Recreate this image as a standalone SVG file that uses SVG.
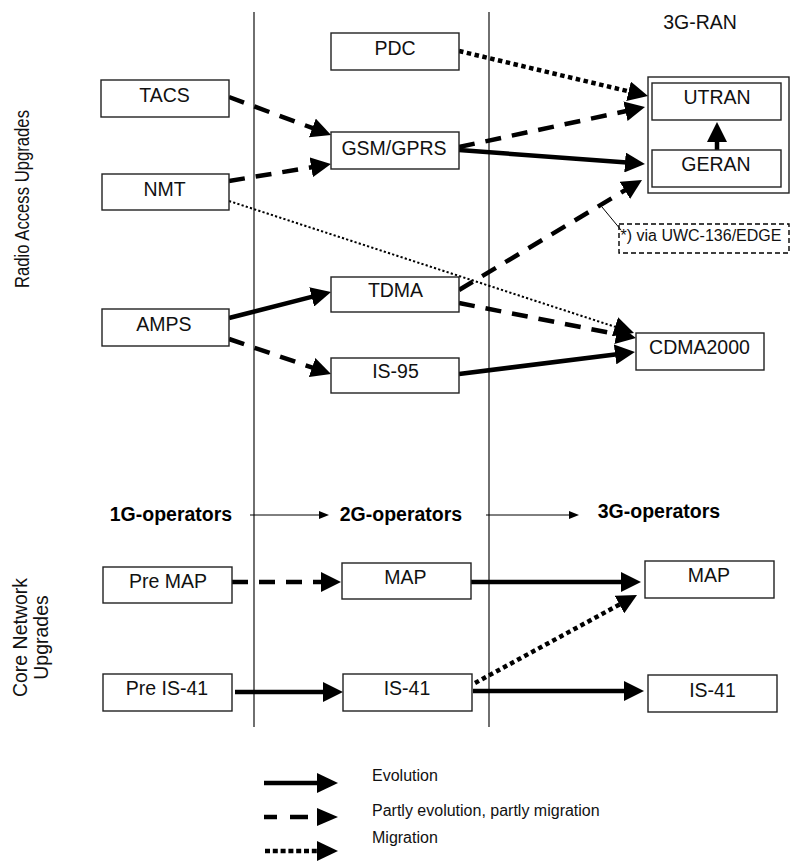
<svg xmlns="http://www.w3.org/2000/svg" width="791" height="861" viewBox="0 0 791 861">
<style>
.box{fill:#fff;stroke:#222;stroke-width:1.4}
.t{font-family:"Liberation Sans",Arial,sans-serif;font-size:19.5px;text-anchor:middle;fill:#111}
.b{font-family:"Liberation Sans",Arial,sans-serif;font-size:19.5px;font-weight:bold;text-anchor:middle;fill:#000}
.s{font-family:"Liberation Sans",Arial,sans-serif;font-size:16px;fill:#111}
.sep{stroke:#222;stroke-width:1.3}
.ev{stroke:#000;stroke-width:4.5;fill:none;marker-end:url(#ah)}
.pe{stroke:#000;stroke-width:4.5;fill:none;stroke-dasharray:16 11;marker-end:url(#ah)}
.mg{stroke:#000;stroke-width:4.5;fill:none;stroke-dasharray:4.5 3.5;marker-end:url(#ah)}
.mgt{stroke:#000;stroke-width:2;fill:none;stroke-dasharray:2.2 2.2;marker-end:url(#ah)}
.thin{stroke:#000;stroke-width:1;fill:none;marker-end:url(#sh)}
</style>
<defs>
<marker id="ah" viewBox="0 0 20 20" refX="2" refY="10" markerWidth="20" markerHeight="20" markerUnits="userSpaceOnUse" orient="auto"><path d="M0,0 L20,10 L0,20 z" fill="#000"/></marker>
<marker id="sh" viewBox="0 0 10 8" refX="1" refY="4" markerWidth="10" markerHeight="8" markerUnits="userSpaceOnUse" orient="auto"><path d="M0,0 L10,4 L0,8 z" fill="#000"/></marker>
</defs>
<rect width="791" height="861" fill="#fff"/>

<g id="separators">
<line class="sep" x1="254" y1="12" x2="254" y2="727"/>
<line class="sep" x1="489" y1="12" x2="489" y2="727"/>
</g>

<g id="side-labels">
<text class="t" transform="translate(28.5,199) rotate(-90)" textLength="178" lengthAdjust="spacingAndGlyphs">Radio Access Upgrades</text>
<text class="t" transform="translate(26.5,637.5) rotate(-90)">Core Network</text>
<text class="t" transform="translate(47.5,637.5) rotate(-90)">Upgrades</text>
</g>

<g id="ran3g">
<rect class="box" x="648" y="77" width="141" height="116"/>
<text class="t" x="700" y="29">3G-RAN</text>
</g>

<g id="connectors">
<line class="pe" x1="229" y1="97" x2="314.2" y2="128.7"/>
<line class="pe" x1="229" y1="181" x2="313.2" y2="167"/>
<line class="mg" x1="459" y1="51" x2="630.5" y2="91.8"/>
<line class="pe" x1="459" y1="147" x2="627.4" y2="110.8"/>
<line class="ev" x1="459" y1="150" x2="627" y2="162.6"/>
<line class="pe" x1="459" y1="290" x2="626.6" y2="189.3"/>
<line class="pe" x1="459" y1="303" x2="618.3" y2="334.5"/>
<line class="mgt" x1="229" y1="201" x2="616.9" y2="327.4"/>
<line class="ev" x1="459" y1="374" x2="617.1" y2="354.2"/>
<line class="ev" x1="229" y1="318" x2="313.6" y2="296.4"/>
<line class="pe" x1="229" y1="339" x2="314" y2="368.2"/>
<line class="ev" x1="717" y1="150" x2="717" y2="140"/>
<line class="pe" x1="232" y1="582" x2="323" y2="582"/>
<line class="ev" x1="471" y1="582" x2="623" y2="582"/>
<line class="mg" x1="475" y1="683" x2="621.2" y2="603.6"/>
<line class="ev" x1="473" y1="691" x2="626" y2="691"/>
<line class="ev" x1="235" y1="692" x2="325" y2="692"/>
<line class="thin" x1="250" y1="515" x2="320" y2="515"/>
<line class="thin" x1="486" y1="515" x2="570" y2="515"/>
<line stroke="#000" stroke-width="1" x1="602" y1="207" x2="621" y2="230"/>
</g>

<g id="pdc"><rect class="box" x="331" y="33" width="128" height="37"/><text class="t" x="395" y="55">PDC</text></g>
<g id="tacs"><rect class="box" x="101" y="80" width="128" height="37"/><text class="t" x="164.5" y="101.7">TACS</text></g>
<g id="gsm"><rect class="box" x="331" y="132" width="128" height="37"/><text class="t" x="394" y="155">GSM/GPRS</text></g>
<g id="nmt"><rect class="box" x="102" y="174" width="127" height="36"/><text class="t" x="164.5" y="195.7">NMT</text></g>
<g id="utran"><rect class="box" x="652" y="83" width="129" height="37"/><text class="t" x="717" y="104">UTRAN</text></g>
<g id="geran"><rect class="box" x="652" y="150" width="129" height="37"/><text class="t" x="716" y="171">GERAN</text></g>
<g id="tdma"><rect class="box" x="331" y="277" width="128" height="35"/><text class="t" x="395.5" y="296.7">TDMA</text></g>
<g id="amps"><rect class="box" x="102" y="309" width="127" height="37"/><text class="t" x="164" y="330.7">AMPS</text></g>
<g id="is95"><rect class="box" x="331" y="358" width="128" height="35"/><text class="t" x="395.5" y="377.7">IS-95</text></g>
<g id="cdma2000"><rect class="box" x="636" y="333" width="128" height="37"/><text class="t" x="699.5" y="354">CDMA2000</text></g>

<g id="note">
<rect x="619" y="224" width="170" height="29" fill="none" stroke="#000" stroke-width="1.4" stroke-dasharray="5 3"/>
<text class="s" x="620.5" y="241">*) via UWC-136/EDGE</text>
</g>

<g id="operators">
<text class="b" x="171" y="521">1G-operators</text>
<text class="b" x="401" y="521">2G-operators</text>
<text class="b" x="659" y="518">3G-operators</text>
</g>

<g id="premap"><rect class="box" x="103" y="567" width="129" height="36"/><text class="t" x="168" y="588.3">Pre MAP</text></g>
<g id="map2g"><rect class="box" x="342" y="563" width="129" height="36"/><text class="t" x="405.5" y="584">MAP</text></g>
<g id="map3g"><rect class="box" x="645" y="561" width="129" height="37"/><text class="t" x="709" y="582.3">MAP</text></g>
<g id="preis41"><rect class="box" x="103" y="674" width="129" height="37"/><text class="t" x="167" y="695">Pre IS-41</text></g>
<g id="is41-2g"><rect class="box" x="343" y="674" width="129" height="37"/><text class="t" x="407" y="695">IS-41</text></g>
<g id="is41-3g"><rect class="box" x="648" y="675" width="129" height="37"/><text class="t" x="712.5" y="696.7">IS-41</text></g>

<g id="legend">
<line x1="264" y1="783" x2="319" y2="783" stroke="#000" stroke-width="4.5"/>
<path d="M317,773 L338,783 L317,793 z" fill="#000"/>
<line x1="264" y1="817" x2="308" y2="817" stroke="#000" stroke-width="4.5" stroke-dasharray="13 13 18 20"/>
<path d="M317,808 L338,817 L317,826 z" fill="#000"/>
<line x1="265" y1="851" x2="320" y2="851" stroke="#000" stroke-width="4.5" stroke-dasharray="5 2.8"/>
<path d="M317,841 L338,851 L317,861 z" fill="#000"/>
<text class="s" x="372" y="781">Evolution</text>
<text class="s" x="372" y="816">Partly evolution, partly migration</text>
<text class="s" x="372" y="843">Migration</text>
</g>
</svg>
